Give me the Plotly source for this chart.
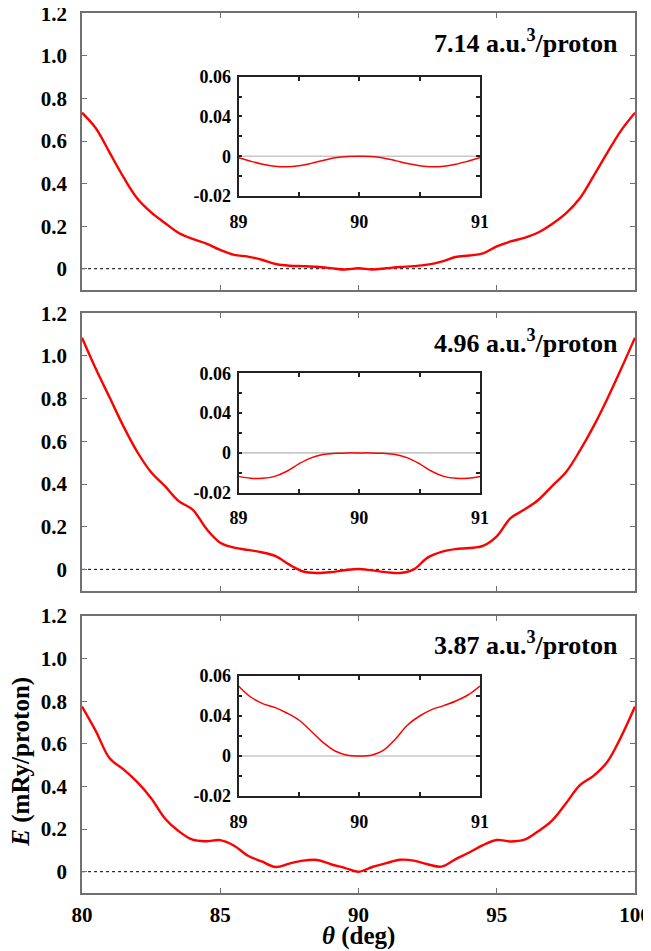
import plotly.graph_objects as go

# ---------------- data ----------------
theta_main = [80.0, 80.5, 81.0, 81.5, 82.0, 82.5, 83.0, 83.5, 84.0, 84.5,
              85.0, 85.5, 86.0, 86.5, 87.0, 87.5, 88.0, 88.5, 89.0, 89.5,
              90.0, 90.5, 91.0, 91.5, 92.0, 92.5, 93.0, 93.5, 94.0, 94.5,
              95.0, 95.5, 96.0, 96.5, 97.0, 97.5, 98.0, 98.5, 99.0, 99.5, 100.0]

E_714 = [0.733, 0.660, 0.545, 0.430, 0.330, 0.265, 0.215, 0.168, 0.140, 0.118,
         0.088, 0.065, 0.057, 0.042, 0.022, 0.014, 0.012, 0.009, 0.003, -0.004,
         0.002, -0.004, 0.002, 0.008, 0.012, 0.019, 0.033, 0.055, 0.062, 0.072,
         0.105, 0.128, 0.145, 0.170, 0.210, 0.260, 0.330, 0.435, 0.545, 0.650, 0.733]

E_496 = [1.086, 0.940, 0.805, 0.670, 0.550, 0.455, 0.390, 0.320, 0.280, 0.190,
         0.125, 0.102, 0.091, 0.080, 0.062, 0.022, -0.010, -0.017, -0.013, -0.004,
         0.002, -0.005, -0.013, -0.017, 0.000, 0.055, 0.082, 0.095, 0.100, 0.110,
         0.155, 0.240, 0.280, 0.325, 0.390, 0.455, 0.555, 0.670, 0.800, 0.940, 1.086]

E_387 = [0.775, 0.660, 0.532, 0.480, 0.420, 0.345, 0.250, 0.190, 0.150, 0.143,
         0.148, 0.122, 0.075, 0.048, 0.022, 0.038, 0.052, 0.055, 0.035, 0.018,
         0.000, 0.022, 0.040, 0.056, 0.052, 0.035, 0.024, 0.058, 0.090, 0.125,
         0.149, 0.142, 0.150, 0.190, 0.240, 0.320, 0.405, 0.450, 0.516, 0.634, 0.775]

theta_inset = [89.0, 89.1, 89.2, 89.3, 89.4, 89.5, 89.6, 89.7, 89.8, 89.9, 90.0,
               90.1, 90.2, 90.3, 90.4, 90.5, 90.6, 90.7, 90.8, 90.9, 91.0]

inset_714 = [-0.0008, -0.0025, -0.0040, -0.0050, -0.0053, -0.0048, -0.0036, -0.0021, -0.0008, -0.0001, 0.0,
             -0.0001, -0.0009, -0.0022, -0.0037, -0.0048, -0.0053, -0.0050, -0.0040, -0.0025, -0.0008]

inset_496 = [-0.0118, -0.0127, -0.0128, -0.0118, -0.0092, -0.0055, -0.0025, -0.0008, -0.0002, 0.0, 0.0,
             0.0, -0.0002, -0.0008, -0.0025, -0.0055, -0.0092, -0.0118, -0.0128, -0.0127, -0.0118]

inset_387 = [0.0350, 0.0295, 0.0262, 0.0243, 0.0215, 0.0180, 0.0125, 0.0068, 0.0025, 0.0004, 0.0,
             0.0004, 0.0028, 0.0085, 0.0155, 0.0200, 0.0232, 0.0252, 0.0275, 0.0305, 0.0350]

volume_labels = ["7.14 a.u.<sup>3</sup>/proton",
                 "4.96 a.u.<sup>3</sup>/proton",
                 "3.87 a.u.<sup>3</sup>/proton"]

main_xticks = [80, 85, 90, 95, 100]
main_yticks = [0, 0.2, 0.4, 0.6, 0.8, 1.0, 1.2]
main_yticktext = ["0", "0.2", "0.4", "0.6", "0.8", "1.0", "1.2"]
inset_xticks = [89, 90, 91]
inset_xticktext = ["89", "90", "91"]
inset_yticks = [-0.02, 0, 0.02, 0.04]
inset_yticktext = ["-0.02", "0", "0.04", "0.06"]

x_title = "<i>θ</i> (deg)"
y_title = "<i>E</i> (mRy/proton)"

# ---------------- layout geometry (page pixels) ----------------
OFF = 8                      # default page body margin
W, H = 651 - OFF, 951 - OFF  # figure size
FONT = "Liberation Serif, Times New Roman, serif"
main_px_x = (82.0, 635.0)
main_px_y = [(13.3, 290.0), (313.3, 590.7), (616.0, 893.0)]
inset_px_x = (238.5, 480.0)
inset_px_y = [(76.7, 196.0), (373.3, 492.7), (676.0, 796.0)]
label_px_y = [41.7, 341.7, 643.3]


def fx(p):
    return (p - OFF) / W


def fy(p):
    return 1 - (p - OFF) / H


def xd(p):
    return [fx(p[0]), fx(p[1])]


def yd(p):
    return [fy(p[1]), fy(p[0])]


fig = go.Figure()
main_series = [E_714, E_496, E_387]
inset_series = [inset_714, inset_496, inset_387]

layout = dict(width=W, height=H, margin=dict(l=0, r=0, t=0, b=0), template="none",
              paper_bgcolor="white", plot_bgcolor="white", showlegend=False)
shapes = []
annotations = []

for i in range(3):
    mi = i + 1          # main axis index
    ii = i + 4          # inset axis index
    mx = "x" if mi == 1 else f"x{mi}"
    my = "y" if mi == 1 else f"y{mi}"
    ix, iy = f"x{ii}", f"y{ii}"

    fig.add_trace(go.Scatter(x=theta_main, y=main_series[i], mode="lines",
                             line=dict(color="#ff0000", width=2.4, shape="spline", smoothing=1.0),
                             xaxis=mx, yaxis=my, hoverinfo="skip"))
    fig.add_trace(go.Scatter(x=theta_inset, y=inset_series[i], mode="lines",
                             line=dict(color="#ff0000", width=1.5, shape="spline", smoothing=1.0),
                             xaxis=ix, yaxis=iy, hoverinfo="skip"))

    tickfont = dict(family=FONT, size=21, color="black", weight="bold")
    layout[f"xaxis{'' if mi == 1 else mi}"] = dict(
        domain=xd(main_px_x), range=[80, 100], anchor=my, automargin=False,
        tickvals=main_xticks, ticks="inside", ticklen=5, tickwidth=1.3, tickcolor="#707070",
        showline=True, linecolor="#707070", linewidth=1.6, mirror="ticks",
        showgrid=False, zeroline=False, showticklabels=(i == 2),
        tickfont=tickfont, ticklabelstandoff=2, ticklabeloverflow="allow")
    layout[f"yaxis{'' if mi == 1 else mi}"] = dict(
        domain=yd(main_px_y[i]), range=[-0.1, 1.2], anchor=mx, automargin=False,
        tickvals=main_yticks, ticktext=main_yticktext,
        ticks="inside", ticklen=5, tickwidth=1.3, tickcolor="#707070",
        showline=True, linecolor="#707070", linewidth=1.6, mirror="ticks",
        showgrid=False, zeroline=False, tickfont=tickfont, ticklabelstandoff=9,
        ticklabeloverflow="allow")

    itickfont = dict(family=FONT, size=18, color="black", weight="bold")
    layout[f"xaxis{ii}"] = dict(
        domain=xd(inset_px_x), range=[89, 91], anchor=iy, automargin=False,
        tickvals=inset_xticks, ticktext=inset_xticktext,
        ticks="inside", ticklen=4, tickwidth=1.5, tickcolor="#222",
        minor=dict(tick0=89, dtick=0.5, ticks="inside", ticklen=4, tickwidth=1.5, tickcolor="#222"),
        showline=True, linecolor="#222", linewidth=1.8, mirror="ticks",
        showgrid=False, zeroline=False, tickfont=itickfont, ticklabelstandoff=8)
    layout[f"yaxis{ii}"] = dict(
        domain=yd(inset_px_y[i]), range=[-0.02, 0.04], anchor=ix, automargin=False,
        tickvals=inset_yticks, ticktext=inset_yticktext,
        ticks="inside", ticklen=4, tickwidth=1.5, tickcolor="#222",
        minor=dict(tick0=-0.02, dtick=0.01, ticks="inside", ticklen=4, tickwidth=1.5, tickcolor="#222"),
        showline=True, linecolor="#222", linewidth=1.8, mirror="ticks",
        showgrid=False, zeroline=False, tickfont=itickfont, ticklabelstandoff=2)

    shapes.append(dict(type="line", xref=mx, yref=my, x0=80, x1=100, y0=0, y1=0,
                       line=dict(color="black", width=1, dash="dot"), layer="below"))
    shapes.append(dict(type="line", xref=ix, yref=iy, x0=89, x1=91, y0=0, y1=0,
                       line=dict(color="#c8c8c8", width=1.6), layer="below"))

    annotations.append(dict(text=volume_labels[i], xref="paper", yref="paper",
                            x=fx(620), y=fy(label_px_y[i]), xanchor="right", yanchor="middle",
                            showarrow=False,
                            font=dict(family=FONT, size=26, color="black", weight="bold")))

annotations.append(dict(text=x_title, xref="paper", yref="paper", x=fx(358.5), y=fy(936),
                        xanchor="center", yanchor="middle", showarrow=False,
                        font=dict(family=FONT, size=25, color="black", weight="bold")))
annotations.append(dict(text=y_title, xref="paper", yref="paper", x=fx(21), y=fy(761.7),
                        xanchor="center", yanchor="middle", showarrow=False, textangle=-90,
                        font=dict(family=FONT, size=25, color="black", weight="bold")))

layout["shapes"] = shapes
layout["annotations"] = annotations
fig.update_layout(**layout)
fig.write_html("out.html")
